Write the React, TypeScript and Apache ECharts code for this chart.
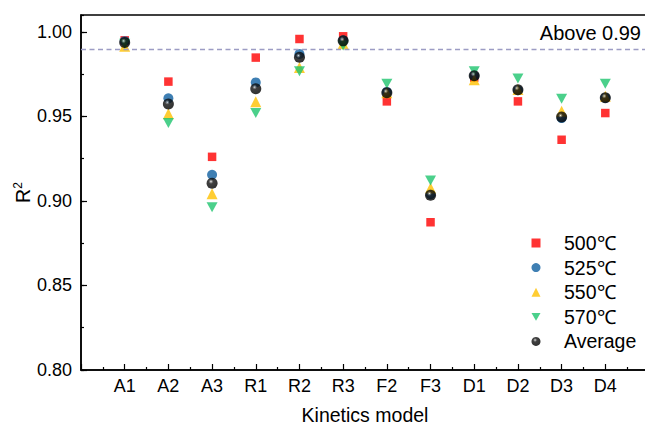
import React, { useEffect, useRef } from "react";
import * as echarts from "echarts";

const categories = ["A1", "A2", "A3", "R1", "R2", "R3", "F2", "F3", "D1", "D2", "D3", "D4"];
const r500 = [0.995, 0.9706, 0.9261, 0.9848, 0.9958, 0.9974, 0.9589, 0.8874, 0.973, 0.9589, 0.9362, 0.952];
const r525 = [0.9945, 0.9607, 0.9155, 0.9701, 0.987, 0.995, 0.9645, 0.904, 0.974, 0.9655, 0.949, 0.961];
const r550 = [0.9915, 0.9516, 0.9042, 0.9587, 0.979, 0.993, 0.964, 0.9076, 0.9717, 0.966, 0.953, 0.962];
const r570 = [0.993, 0.9461, 0.8963, 0.952, 0.9767, 0.992, 0.9694, 0.9121, 0.9767, 0.9725, 0.9605, 0.9694];
const average = [0.9937, 0.9574, 0.9105, 0.9664, 0.985, 0.9947, 0.964, 0.9034, 0.9741, 0.9658, 0.9496, 0.9611];
const threshold = 0.99;
const yTicks = [0.8, 0.85, 0.9, 0.95, 1.0];

const FONT = "Liberation Sans, Arial, sans-serif";
const DOWN_TRIANGLE = "path://M0,0 L10,0 L5,8.66 Z";

export default function App() {
  const ref = useRef<HTMLDivElement>(null);
  useEffect(() => {
    if (!ref.current) return;
    const chart = echarts.init(ref.current, null, { renderer: "svg" });
    const toData = (arr: number[]) => arr.map((v, i) => [i + 1, v]);
    const sphere = new echarts.graphic.RadialGradient(0.4, 0.35, 0.6, [
      { offset: 0, color: "#ffffff" },
      { offset: 0.12, color: "#8a8a8a" },
      { offset: 0.35, color: "#111111" },
      { offset: 1, color: "#000000" },
    ]);
    chart.setOption({
      animation: false,
      backgroundColor: "#ffffff",
      grid: {
        left: 81,
        top: 15,
        right: -4,
        bottom: 56,
        outerBoundsMode: "none",
        containLabel: false,
        show: true,
        borderColor: "#000",
        borderWidth: 1.5,
        backgroundColor: "transparent",
      },
      xAxis: {
        type: "value",
        min: 0,
        max: 13,
        interval: 1,
        name: "Kinetics model",
        nameLocation: "middle",
        nameGap: 35,
        nameMoveOverlap: false,
        nameTextStyle: { fontSize: 19.5, color: "#000", fontFamily: FONT },
        axisLine: { show: true, lineStyle: { color: "#000", width: 1.5 } },
        axisTick: { show: true, inside: true, length: 6, lineStyle: { color: "#000", width: 1.2 } },
        minorTick: { show: true, splitNumber: 2, length: 3, lineStyle: { color: "#000", width: 1.2 } },
        splitLine: { show: false },
        axisLabel: {
          fontSize: 18,
          color: "#000",
          fontFamily: FONT,
          margin: 7,
          formatter: (v: number) => categories[v - 1] || "",
        },
      },
      yAxis: [
        {
          type: "value",
          min: 0.8,
          max: 1.01,
          interval: 0.05,
          name: "R{sup|2}",
          nameLocation: "middle",
          nameGap: 48,
          nameMoveOverlap: false,
          nameRotate: 90,
          nameTextStyle: {
            fontSize: 19.5,
            color: "#000",
            fontFamily: FONT,
            rich: { sup: { fontSize: 12, verticalAlign: "top", padding: [0, 0, 9, 0], fontFamily: FONT, color: "#000" } },
          },
          axisLine: { show: true, lineStyle: { color: "#000", width: 1.5 } },
          axisTick: { show: true, inside: true, length: 6, lineStyle: { color: "#000", width: 1.2 } },
          splitLine: { show: false },
          axisLabel: {
            fontSize: 18,
            color: "#000",
            fontFamily: FONT,
            margin: 9,
            showMaxLabel: false,
            formatter: (v: number) => {
              const t = yTicks.find((x) => Math.abs(x - v) < 1e-6);
              return t !== undefined ? t.toFixed(2) : "";
            },
          },
        },
        {
          type: "value",
          min: 0.8,
          max: 1.01,
          interval: 0.025,
          position: "left",
          axisLine: { show: false },
          axisTick: { show: true, inside: true, length: 3, lineStyle: { color: "#000", width: 1.2 } },
          axisLabel: { show: false },
          splitLine: { show: false },
        },
      ],
      legend: {
        orient: "vertical",
        left: 526.5,
        top: 228,
        itemWidth: 9,
        itemHeight: 9,
        itemGap: 4.6,
        textStyle: { fontSize: 19.5, color: "#000", fontFamily: FONT, padding: [0, 0, 0, 18.5] },
        data: ["500℃", "525℃", "550℃", "570℃", "Average"],
      },
      graphic: [
        {
          type: "text",
          x: 641,
          y: 33,
          style: {
            text: "Above 0.99",
            fontSize: 20,
            fontFamily: FONT,
            fill: "#000",
            align: "right",
            verticalAlign: "middle",
          },
        },
      ],
      series: [
        {
          name: "500℃",
          type: "scatter",
          symbol: "rect",
          symbolSize: 8.5,
          itemStyle: { color: "#ff0000" },
          data: toData(r500),
          markLine: {
            silent: true,
            symbol: "none",
            label: { show: false },
            lineStyle: { type: [5, 3.5], color: "#9c9cc4", width: 1.3 },
            data: [{ yAxis: threshold }],
          },
        },
        {
          name: "525℃",
          type: "scatter",
          symbol: "circle",
          symbolSize: 10,
          itemStyle: { color: "#0f5fa0" },
          data: toData(r525),
        },
        {
          name: "550℃",
          type: "scatter",
          symbol: "triangle",
          symbolSize: 11,
          itemStyle: { color: "#ffc000" },
          data: toData(r550),
        },
        {
          name: "570℃",
          type: "scatter",
          symbol: DOWN_TRIANGLE,
          symbolSize: [11, 10],
          itemStyle: { color: "#1ec46e" },
          data: toData(r570),
        },
        {
          name: "Average",
          type: "scatter",
          symbol: "circle",
          symbolSize: 11,
          itemStyle: { color: sphere },
          data: toData(average),
        },
      ],
    });
    return () => chart.dispose();
  }, []);
  return (
    <div
      ref={ref}
      style={{ position: "absolute", left: 0, top: 0, width: 645, height: 426 }}
    />
  );
}
